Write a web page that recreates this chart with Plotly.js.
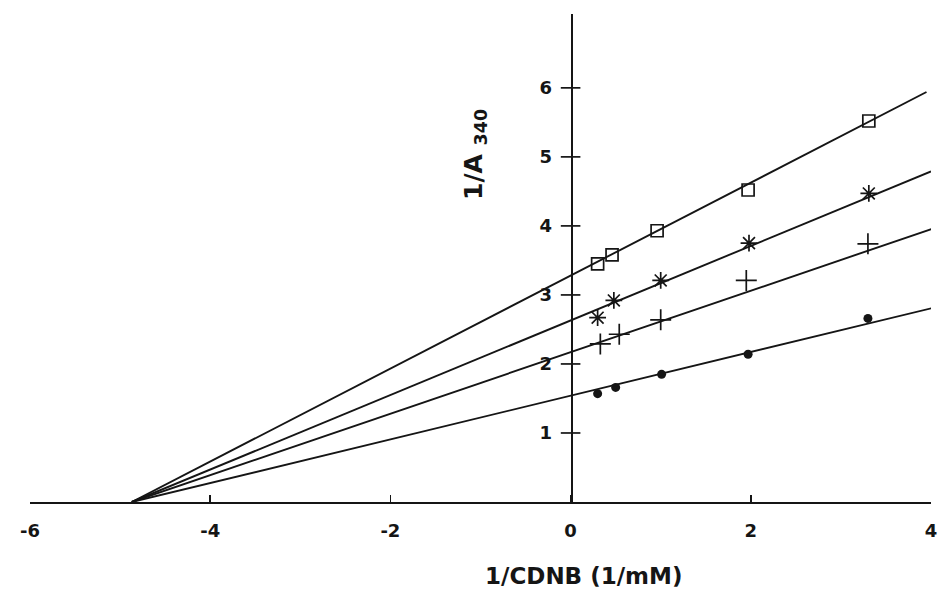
<!DOCTYPE html>
<html>
<head>
<meta charset="utf-8">
<script src="https://cdn.plot.ly/plotly-3.0.1.min.js"></script>
<style>html,body{margin:0;padding:0;background:#fff;}#chart{width:938px;height:589px;}</style>
</head>
<body>
<div id="chart"></div>
<script>
// ---- data ----
const xTickVals = [-6, -4, -2, 0, 2, 4];
const xTickText = ["-6", "-4", "-2", "0", "2", "4"];
const yTickVals = [1, 2, 3, 4, 5, 6];
const yTickText = ["1", "2", "3", "4", "5", "6"];

// 1/[CDNB] values of the measured points
const squareX = [0.30, 0.46, 0.96, 1.97, 3.31];
const squareY = [3.45, 3.58, 3.93, 4.52, 5.52];
const starX   = [0.30, 0.48, 1.00, 1.98, 3.31];
const starY   = [2.67, 2.92, 3.21, 3.75, 4.47];
const plusX   = [0.33, 0.54, 1.00, 1.95, 3.30];
const plusY   = [2.29, 2.43, 2.64, 3.21, 3.74];
const dotX    = [0.30, 0.50, 1.01, 1.97, 3.30];
const dotY    = [1.57, 1.66, 1.85, 2.14, 2.66];

// fitted Lineweaver-Burk lines: common x-intercept, y-intercepts and right end
const commonXIntercept = -4.87;
const lineYIntercepts = [3.28, 2.63, 2.17, 1.54];   // square, star, plus, dot
const lineEndX = [3.95, 4.0, 4.05, 4.1];

const ink = '#151515';
const fam = 'DejaVu Sans, Arial, sans-serif';

function fitLine(b, xEnd) {
  const xs = [commonXIntercept, xEnd];
  return {
    x: xs,
    y: xs.map(x => b * (1 - x / commonXIntercept)),
    mode: 'lines', type: 'scatter',
    line: {color: ink, width: 1.9},
    hoverinfo: 'skip', showlegend: false
  };
}

const traces = [];
lineYIntercepts.forEach((b, i) => traces.push(fitLine(b, lineEndX[i])));

traces.push({x: squareX, y: squareY, mode: 'markers', type: 'scatter', showlegend: false,
  marker: {symbol: 'square-open', size: 12, color: ink, line: {color: ink, width: 1.7}}});
traces.push({x: starX, y: starY, mode: 'markers', type: 'scatter', showlegend: false,
  marker: {symbol: 'asterisk-open', size: 14, color: ink, line: {color: ink, width: 1.7}}});
traces.push({x: plusX, y: plusY, mode: 'markers', type: 'scatter', showlegend: false,
  marker: {symbol: 'cross-thin-open', size: 15, color: ink, line: {color: ink, width: 1.7}}});
traces.push({x: dotX, y: dotY, mode: 'markers', type: 'scatter', showlegend: false,
  marker: {symbol: 'circle', size: 9, color: ink, line: {color: ink, width: 0}}});

// tick marks crossing the vertical axis
traces.push({x: yTickVals.map(() => 0), y: yTickVals, mode: 'markers', type: 'scatter',
  showlegend: false, hoverinfo: 'skip',
  marker: {symbol: 'line-ew-open', size: 14, color: ink, line: {color: ink, width: 1.7}}});

const layout = {
  width: 938, height: 589,
  margin: {l: 30, r: 7, t: 14, b: 87},
  paper_bgcolor: '#fff', plot_bgcolor: '#fff',
  showlegend: false,
  xaxis: {
    range: [-6, 4], showgrid: false, zeroline: false,
    showline: true, linecolor: ink, linewidth: 1.9,
    ticks: 'inside', ticklen: 7, tickwidth: 1.7, tickcolor: ink,
    tickvals: xTickVals, ticktext: xTickText,
    ticklabelstandoff: 11,
    tickfont: {family: fam, size: 18, color: ink, weight: 'bold'}
  },
  yaxis: {
    range: [0, 7.07], showgrid: false, zeroline: false,
    anchor: 'free', position: 0.6,
    showline: true, linecolor: ink, linewidth: 1.9,
    ticks: '', tickvals: yTickVals, ticktext: yTickText,
    ticklabelstandoff: 15,
    tickfont: {family: fam, size: 18, color: ink, weight: 'bold'}
  },
  annotations: [
    {text: '1/CDNB (1/mM)', xref: 'paper', yref: 'paper',
     x: (583 - 30) / 901, y: (502 - 576) / 488, xanchor: 'center', yanchor: 'middle',
     showarrow: false, font: {family: fam, size: 23, color: ink, weight: 'bold'}},
    {text: '1/A <sub>340</sub>', xref: 'paper', yref: 'paper',
     x: (475 - 30) / 901, y: (502 - 155) / 488, xanchor: 'center', yanchor: 'middle',
     textangle: -90, showarrow: false,
     font: {family: fam, size: 25, color: ink, weight: 'bold'}}
  ]
};

Plotly.newPlot('chart', traces, layout, {displayModeBar: false, staticPlot: true});
</script>
</body>
</html>
